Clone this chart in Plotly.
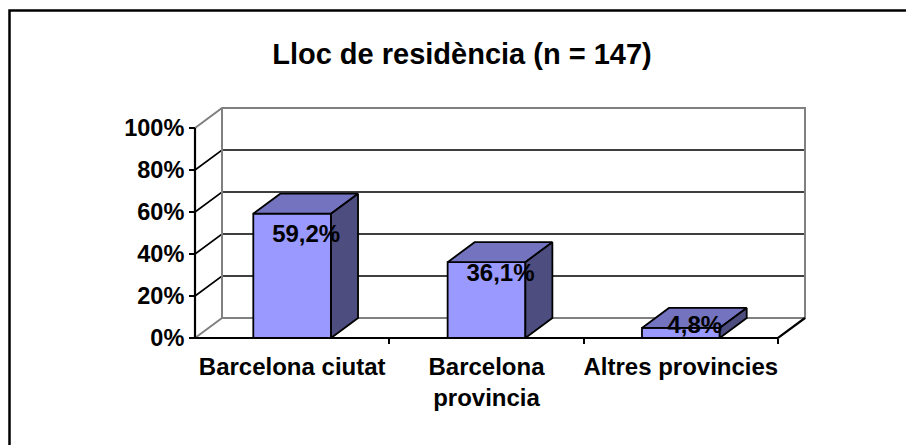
import plotly.graph_objects as go

# ---- data ----
categories = ["Barcelona ciutat", "Barcelona<br>provincia", "Altres provincies"]
values = [59.2, 36.1, 4.8]
y_ticks = [0, 20, 40, 60, 80, 100]
y_tick_labels = ["0%", "20%", "40%", "60%", "80%", "100%"]
title_text = "Lloc de residència (n = 147)"

# ---- geometry / style (pixels) ----
W, H = 906, 445
X0_PX, X1_PX = 195, 778        # front floor line
Y0_PX, Y100_PX = 338, 128      # front value axis
DEPTH_DX_PX, DEPTH_DY_PX = 27, 20
PAD = 5
BAR_W = 0.40
FONT = "Arial, Liberation Sans, sans-serif"
FRONT = "#9999FF"
TOP = "#7373BF"
SIDE = "#4D4D80"
GRAY = "#808080"

n = len(categories)
ymax = y_ticks[-1]
kx = (X1_PX - X0_PX) / n
ky = (Y0_PX - Y100_PX) / ymax
ddx = DEPTH_DX_PX / kx
ddy = DEPTH_DY_PX / ky

xlo = -0.5 - PAD / kx
xhi = n - 0.5 + ddx + PAD / kx
ylo = -PAD / ky
yhi = ymax + ddy + PAD / ky

ml = X0_PX - PAD
mr = W - (X1_PX + DEPTH_DX_PX + PAD)
mb = H - (Y0_PX + PAD)
mt = Y0_PX - (Y0_PX - Y100_PX) - DEPTH_DY_PX - PAD
pw = W - ml - mr
ph = H - mt - mb

fig = go.Figure()


def lines(xs, ys, color, width):
    fig.add_trace(go.Scatter(x=xs, y=ys, mode="lines",
                             line=dict(color=color, width=width),
                             hoverinfo="skip", showlegend=False))


def poly(xs, ys, fill):
    fig.add_trace(go.Scatter(x=xs + [xs[0]], y=ys + [ys[0]], mode="lines",
                             fill="toself", fillcolor=fill,
                             line=dict(color="black", width=1.8),
                             hoverinfo="skip", showlegend=False))


xl, xr = -0.5, n - 0.5

# back-wall gridlines and side-wall gridlines
gx, gy = [], []
for t in y_ticks[1:-1]:
    gx += [xl, xl + ddx, xr + ddx, None]
    gy += [t, t + ddy, t + ddy, None]
lines(gx, gy, "black", 1.6)

# wall borders (gray)
lines([xl, xl + ddx, xr + ddx, xr + ddx, xl + ddx, xl + ddx, xl, None],
      [ymax, ymax + ddy, ymax + ddy, ddy, ddy, ymax + ddy, ymax, None],
      GRAY, 2)
lines([xl, xl + ddx], [0, ddy], GRAY, 2)

# front axes and floor edge
lines([xl, xl, None, xl, xr, xr + ddx],
      [ymax, 0, None, 0, 0, ddy], "black", 2.2)

# bars
for i, v in enumerate(values):
    L, R = i - BAR_W / 2, i + BAR_W / 2
    poly([L, R, R, L], [0, 0, v, v], FRONT)
    poly([L, R, R + ddx, L + ddx], [v, v, v + ddy, v + ddy], TOP)
    poly([R, R + ddx, R + ddx, R], [0, ddy, v + ddy, v], SIDE)

# data labels
fig.add_trace(go.Scatter(
    x=[i + 14 / kx for i in range(n)],
    y=[0.8 * v + 1.2 for v in values],
    mode="text",
    text=["<b>" + f"{v:.1f}".replace(".", ",") + "%</b>" for v in values],
    textposition="middle center",
    textfont=dict(family=FONT, size=24, color="black"),
    cliponaxis=False, hoverinfo="skip", showlegend=False))

fig.update_layout(
    width=W, height=H,
    margin=dict(l=ml, r=mr, t=mt, b=mb, autoexpand=False),
    paper_bgcolor="white", plot_bgcolor="rgba(0,0,0,0)",
    showlegend=False,
    title=dict(text="<b>" + title_text + "</b>",
               font=dict(family=FONT, size=29, color="black"),
               xref="container", yref="container",
               x=462 / W, y=1 - 53.8 / H, xanchor="center", yanchor="middle"),
    xaxis=dict(range=[xlo, xhi], showgrid=False, zeroline=False, showline=False,
               anchor="free", position=PAD / ph,
               tickmode="array", tickvals=list(range(n)),
               ticktext=["<b>" + c + "</b>" for c in categories],
               ticks="", ticklabelstandoff=12,
               tickfont=dict(family=FONT, size=24, color="black"),
               minor=dict(tickmode="array", tickvals=[i + 0.5 for i in range(n)],
                          ticks="outside", ticklen=5, tickwidth=2, tickcolor="black"),
               fixedrange=True),
    yaxis=dict(range=[ylo, yhi], showgrid=False, zeroline=False, showline=False,
               anchor="free", position=PAD / pw,
               tickmode="array", tickvals=y_ticks,
               ticktext=["<b>" + t + "</b>" for t in y_tick_labels],
               ticks="outside", ticklen=6, tickwidth=2, tickcolor="black",
               ticklabelstandoff=0,
               tickfont=dict(family=FONT, size=23.5, color="black"),
               fixedrange=True),
    shapes=[dict(type="rect", xref="paper", yref="paper",
                 x0=(9.5 - ml) / pw, x1=(W + 20 - ml) / pw,
                 y0=(H - mb - (H + 20)) / ph, y1=(H - mb - 10.5) / ph,
                 line=dict(color="black", width=2.5), fillcolor="rgba(0,0,0,0)",
                 layer="below")],
)

fig.write_html("out.html", config={"displayModeBar": False},
               post_script="document.body.style.margin='0px';"
                           "document.body.style.overflow='hidden';")
